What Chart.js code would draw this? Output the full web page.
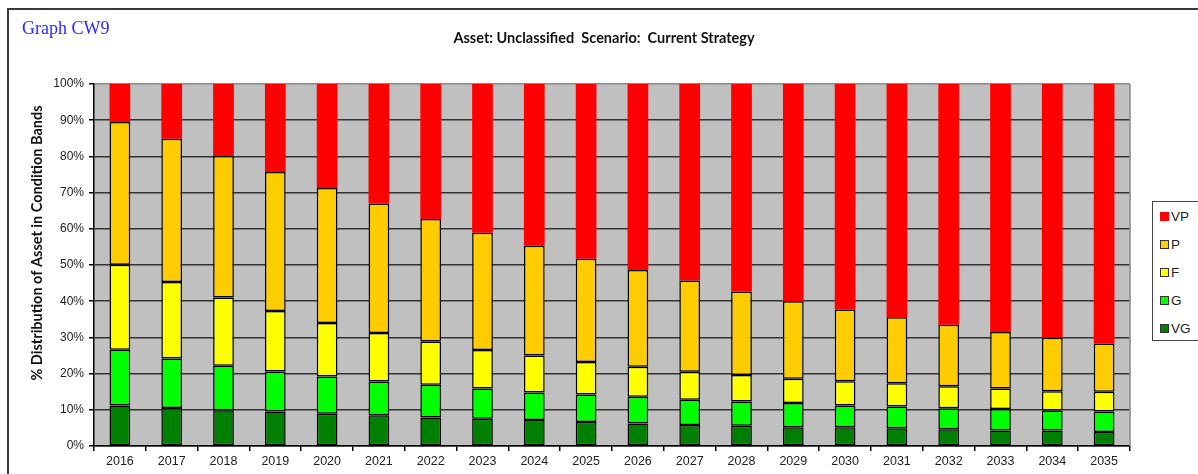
<!DOCTYPE html>
<html>
<head>
<meta charset="utf-8">
<script src="https://cdn.jsdelivr.net/npm/chart.js@4.4.0/dist/chart.umd.min.js"></script>
<style>
  body { margin: 0; background: #fff; }
  #wrap { position: relative; width: 1198px; height: 474px; overflow: hidden; }
  #graphName { position: absolute; left: 22px; top: 18px; font-family: "Liberation Serif", serif; font-size: 18px; color: #2a2aff; }
  #mainTitle { position: absolute; left: 0; width: 1208px; top: 29px; text-align: center; font-family: Lato, "Liberation Sans", sans-serif; font-weight: bold; font-size: 14.5px; color: #111; white-space: pre; }
  #legend { position: absolute; left: 1152px; top: 201px; width: 50px; height: 140px; border: 1.5px solid #444; background: #fff; box-sizing: border-box; }
  .item { position: absolute; left: 7px; font-family: "Liberation Sans", sans-serif; font-size: 13.5px; color: #222; line-height: 14px; }
  .sw { display: inline-block; width: 9px; height: 9px; box-sizing: border-box; margin-right: 2px; vertical-align: 0px; }
</style>
</head>
<body>
<div id="wrap">
  <canvas id="chart" width="1198" height="474"></canvas>
  <div id="graphName">Graph CW9</div>
  <div id="mainTitle">Asset: Unclassified  Scenario:  Current Strategy</div>
  <div id="legend"></div>
</div>
<script>
// Years along the x axis
const years = ['2016', '2017', '2018', '2019', '2020', '2021', '2022', '2023', '2024', '2025',
               '2026', '2027', '2028', '2029', '2030', '2031', '2032', '2033', '2034', '2035'];

// Share of asset in each condition band (%)
const vg = [11.2, 10.5, 9.9, 9.5, 8.9, 8.5, 7.9, 7.5, 7.2, 6.6, 6.2, 5.8, 5.6, 5.2, 5.2, 4.9, 4.6, 4.3, 4.3, 3.9];
const g  = [15.4, 13.7, 12.3, 11.1, 10.3, 9.3, 9.0, 8.4, 7.6, 7.6, 7.4, 7.0, 6.7, 6.7, 6.0, 6.0, 5.8, 5.9, 5.5, 5.6];
const f  = [23.5, 21.1, 18.8, 16.7, 14.8, 13.4, 12.0, 10.6, 10.2, 9.0, 8.3, 7.7, 7.3, 6.7, 6.7, 6.4, 6.1, 5.7, 5.3, 5.5];
const p  = [39.4, 39.6, 39.1, 38.4, 37.3, 35.8, 33.8, 32.4, 30.3, 28.5, 26.7, 25.2, 23.1, 21.4, 19.8, 18.3, 17.0, 15.6, 14.8, 13.3];
const vp = [10.5, 15.1, 19.9, 24.3, 28.7, 33.0, 37.3, 41.1, 44.7, 48.3, 51.4, 54.3, 57.3, 60.0, 62.3, 64.4, 66.5, 68.5, 70.1, 71.7];

const yTicks = [0, 10, 20, 30, 40, 50, 60, 70, 80, 90, 100];

const bands = [
    { label: 'VG', data: vg, color: '#008000', border: 1.5 },
    { label: 'G',  data: g,  color: '#00ff00', border: 1.5 },
    { label: 'F',  data: f,  color: '#ffff00', border: 1.5 },
    { label: 'P',  data: p,  color: '#ffcc00', border: 1.5 },
    { label: 'VP', data: vp, color: '#ff0000', border: 0 }
];

// background of the plot, outer frame and the y axis title
const decorations = {
    id: 'decorations',
    beforeDraw(chart) {
        const ctx = chart.ctx;
        const a = chart.chartArea;
        ctx.save();
        ctx.fillStyle = '#c0c0c0';
        ctx.fillRect(a.left, a.top, a.right - a.left, a.bottom - a.top);
        ctx.strokeStyle = '#3a3a3a';
        ctx.lineWidth = 2;
        ctx.beginPath();
        ctx.moveTo(8, 480);
        ctx.lineTo(8, 9);
        ctx.lineTo(1200, 9);
        ctx.stroke();
        ctx.restore();
    },
    afterDraw(chart) {
        const ctx = chart.ctx;
        const a = chart.chartArea;
        ctx.save();
        ctx.strokeStyle = '#8a8a8a';
        ctx.lineWidth = 1.5;
        ctx.beginPath();
        ctx.moveTo(a.right, a.top);
        ctx.lineTo(a.right, a.bottom);
        ctx.stroke();
        ctx.translate(37, 243);
        ctx.rotate(-Math.PI / 2);
        ctx.fillStyle = '#111';
        ctx.font = 'bold 14.5px Lato, "Liberation Sans", sans-serif';
        ctx.textAlign = 'center';
        ctx.textBaseline = 'middle';
        ctx.fillText('% Distribution of Asset in Condition Bands', 0, 0);
        ctx.restore();
    }
};

const chart = new Chart(document.getElementById('chart'), {
    type: 'bar',
    data: {
        labels: years,
        datasets: bands.map(b => ({
            label: b.label,
            data: b.data,
            backgroundColor: b.color,
            borderColor: '#000',
            borderWidth: b.border,
            borderSkipped: false,
            categoryPercentage: 1,
            barPercentage: 0.4
        }))
    },
    options: {
        responsive: false,
        animation: false,
        layout: { padding: { left: 0, top: 84, right: 68, bottom: 0 } },
        plugins: {
            legend: { display: false },
            tooltip: { enabled: false }
        },
        scales: {
            x: {
                stacked: true,
                afterFit: s => { s.height = 28; },
                border: { color: '#000', width: 1.5 },
                grid: { drawOnChartArea: false, drawTicks: true, tickLength: 5, color: '#000', lineWidth: 1.5 },
                ticks: { color: '#222', padding: 3, font: { family: '"Liberation Sans", sans-serif', size: 12.5 }, maxRotation: 0 }
            },
            y: {
                stacked: true,
                min: 0,
                max: 100,
                afterFit: s => { s.width = 94; },
                afterBuildTicks: s => { s.ticks = yTicks.map(v => ({ value: v })); },
                border: { color: '#000', width: 1.5 },
                grid: {
                    color: c => (c.tick && c.tick.value === 100) ? '#8a8a8a' : '#333',
                    lineWidth: 1.5,
                    tickLength: 5,
                    tickColor: '#000'
                },
                ticks: {
                    color: '#222',
                    padding: 5,
                    font: { family: '"Liberation Sans", sans-serif', size: 12 },
                    callback: v => v + '%'
                }
            }
        }
    },
    plugins: [decorations]
});

// legend box, top item is the last band
const legend = document.getElementById('legend');
bands.slice().reverse().forEach((b, i) => {
    const item = document.createElement('div');
    item.className = 'item';
    item.style.top = (8 + i * 28) + 'px';
    const sw = document.createElement('span');
    sw.className = 'sw';
    sw.style.background = b.color;
    sw.style.border = b.border ? '1px solid #333' : 'none';
    item.appendChild(sw);
    item.appendChild(document.createTextNode(b.label));
    legend.appendChild(item);
});
</script>
</body>
</html>
